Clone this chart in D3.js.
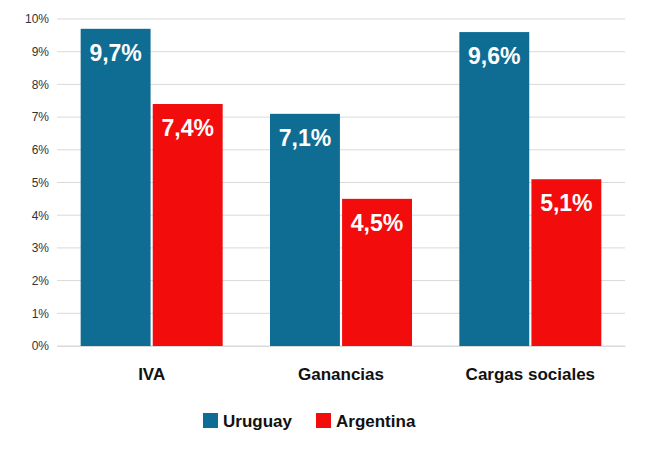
<!DOCTYPE html>
<html><head><meta charset="utf-8">
<script src="https://cdn.jsdelivr.net/npm/d3@7"></script>
<style>body{margin:0;background:#fff;font-family:"Liberation Sans",Arial,sans-serif}</style>
</head><body><svg id="c" width="650" height="450"></svg>
<script>
var categories = ['IVA', 'Ganancias', 'Cargas sociales'];
var seriesNames = ['Uruguay', 'Argentina'];
var uruguay = [9.7, 7.1, 9.6];
var argentina = [7.4, 4.5, 5.1];
var yTicks = [0, 1, 2, 3, 4, 5, 6, 7, 8, 9, 10];
var colors = ['#0f6d94', '#f20c0c'];

var svg = d3.select('#c');
var margin = {left: 57, right: 25, top: 19, bottom: 104};
var width = 650 - margin.left - margin.right;
var height = 450 - margin.top - margin.bottom;
var g = svg.append('g').attr('transform', 'translate(' + margin.left + ',' + margin.top + ')');

var x = d3.scaleBand().domain(categories).range([0, width]).paddingInner(0.25).paddingOuter(0.125);
var xs = d3.scaleBand().domain(seriesNames).range([0, x.bandwidth()]).paddingInner(0.03);
var y = d3.scaleLinear().domain([0, 10]).range([height, 0]);

g.selectAll('line.grid').data(yTicks).enter().append('line')
  .attr('x1', 0).attr('x2', width)
  .attr('y1', function(d) { return y(d); }).attr('y2', function(d) { return y(d); })
  .attr('stroke', '#d9d9d9');

var yAxis = g.append('g').call(d3.axisLeft(y).tickValues(yTicks).tickSize(0).tickPadding(8)
  .tickFormat(function(d) { return d + '%'; }));
yAxis.select('.domain').remove();
yAxis.selectAll('text').attr('font-size', 12).attr('fill', '#333').attr('font-family', 'Liberation Sans, Arial');

var rows = categories.map(function(c, i) { return {cat: c, vals: [uruguay[i], argentina[i]]}; });
var grp = g.selectAll('g.cat').data(rows).enter().append('g')
  .attr('transform', function(d) { return 'translate(' + x(d.cat) + ',0)'; });
grp.selectAll('rect').data(function(d) { return d.vals.map(function(v, j) { return {s: seriesNames[j], v: v, j: j}; }); })
  .enter().append('rect')
  .attr('x', function(d) { return xs(d.s); }).attr('width', xs.bandwidth())
  .attr('y', function(d) { return y(d.v); }).attr('height', function(d) { return height - y(d.v); })
  .attr('fill', function(d) { return colors[d.j]; });
grp.selectAll('text.v').data(function(d) { return d.vals.map(function(v, j) { return {s: seriesNames[j], v: v}; }); })
  .enter().append('text')
  .attr('x', function(d) { return xs(d.s) + xs.bandwidth() / 2; })
  .attr('y', function(d) { return y(d.v) + 32; })
  .attr('text-anchor', 'middle').attr('fill', '#fff').attr('font-weight', 'bold').attr('font-size', 23)
  .text(function(d) { return String(d.v).replace('.', ',') + '%'; });

var xAxis = g.append('g').attr('transform', 'translate(0,' + height + ')')
  .call(d3.axisBottom(x).tickSize(0).tickPadding(22));
xAxis.select('.domain').attr('stroke', '#d9d9d9');
xAxis.selectAll('text').attr('font-size', 17).attr('font-weight', 'bold').attr('fill', '#111')
  .attr('font-family', 'Liberation Sans, Arial');

var leg = svg.append('g').attr('transform', 'translate(203,413)');
var items = leg.selectAll('g').data(seriesNames).enter().append('g')
  .attr('transform', function(d, i) { return 'translate(' + (i * 113) + ',0)'; });
items.append('rect').attr('width', 15).attr('height', 15).attr('fill', function(d, i) { return colors[i]; });
items.append('text').attr('x', 20).attr('y', 14).attr('font-size', 17).attr('font-weight', 'bold').attr('fill', '#111')
  .text(function(d) { return d; });
</script></body></html>
